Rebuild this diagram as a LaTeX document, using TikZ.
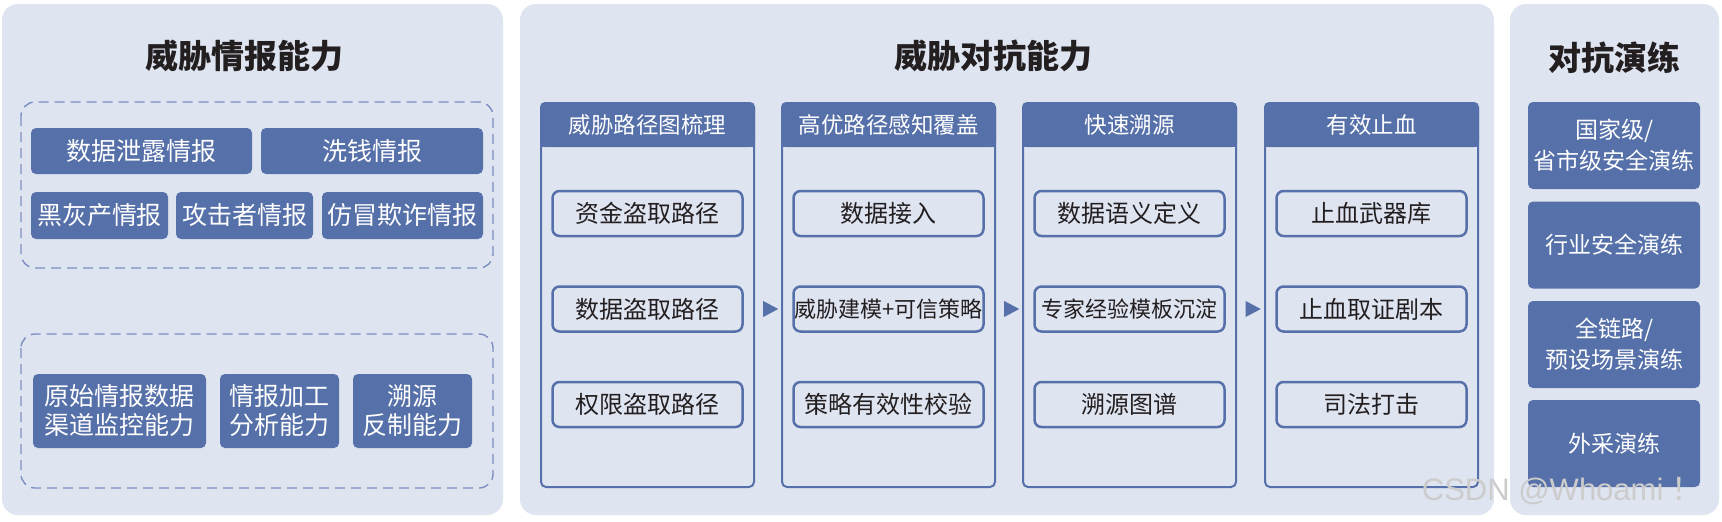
\documentclass[tikz,border=0pt]{standalone}
\usepackage{fontspec}
\setmainfont{Noto Sans CJK SC}
\newfontfamily\cjkfont{Noto Sans CJK SC}
\newfontfamily\wmfont{Liberation Sans}
\usetikzlibrary{calc}
\usetikzlibrary{shapes.geometric}
\definecolor{panelbg}{HTML}{DFE4F1}
\definecolor{hblue}{HTML}{5670A9}
\definecolor{dashblue}{HTML}{7D8FC2}
\definecolor{inkdark}{HTML}{231F20}

\begin{document}
\begin{tikzpicture}[x=1pt,y=-1pt,
                    panel/.style={fill=panelbg,rounded corners=16pt},
                    paneltitle/.style={text=inkdark,font=\fontsize{33}{36}\selectfont\bfseries},
                    dashframe/.style={draw=dashblue,line width=1.4pt,dash pattern=on 10pt off 6pt,rounded corners=14pt},
                    tagbox/.style={fill=hblue,rounded corners=5pt,text=white,inner sep=0pt,align=center,font=\fontsize{25}{29}\selectfont},
                    colbox/.style={draw=hblue,line width=2pt,rounded corners=5pt,minimum width=213pt,minimum height=384pt,inner sep=0pt},
                    headtext/.style={text=white,font=\fontsize{22.5}{26}\selectfont},
                    itembox/.style={draw=hblue,line width=2.5pt,rounded corners=7pt,fill=panelbg,minimum width=190pt,minimum height=45pt,inner sep=0pt,text=inkdark,font=\fontsize{24}{28}\selectfont},
                    flowtip/.style={isosceles triangle,isosceles triangle stretches,fill=hblue,inner sep=0pt,minimum width=16pt,minimum height=15pt},
                    drillbox/.style={tagbox,minimum width=172pt,minimum height=87pt,font=\fontsize{23}{31}\selectfont}]
                    \useasboundingbox (0,0) rectangle (1722,522);
                    \fill[white] (0,0) rectangle (1722,522);
                    \fill[panel] (2,4) rectangle (503,515);
                    \fill[panel] (520,4) rectangle (1494,515);
                    \fill[panel] (1510,4) rectangle (1719,515);

                    \node[paneltitle] (intel) at (244,56) {威胁情报能力};
                    \node[paneltitle] (counter) at (993,56) {威胁对抗能力};
                    \node[paneltitle] (drill) at (1614,58) {对抗演练};

                    \draw[dashframe] (21,102) rectangle (493,268);
                    \draw[dashframe] (21,334) rectangle (493,488);
                    \node[tagbox,minimum width=221pt,minimum height=46pt] (leak) at (141.5,151) {数据泄露情报};
                    \node[tagbox,minimum width=222pt,minimum height=46pt] (launder) at (372,151) {洗钱情报};
                    \node[tagbox,minimum width=137pt,minimum height=47pt] (gray) at (99.5,215.5) {黑灰产情报};
                    \node[tagbox,minimum width=137pt,minimum height=47pt] (attacker) at (244.5,215.5) {攻击者情报};
                    \node[tagbox,minimum width=161pt,minimum height=47pt] (fraud) at (402.5,215.5) {仿冒欺诈情报};
                    \node[tagbox,minimum width=173pt,minimum height=74pt] (monitor) at (119.5,411) {原始情报数据\\渠道监控能力};
                    \node[tagbox,minimum width=119pt,minimum height=74pt] (analyse) at (279.5,411) {情报加工\\分析能力};
                    \node[tagbox,minimum width=119pt,minimum height=74pt] (trace) at (412.5,411) {溯源\\反制能力};

                    \foreach \i/\x/\head in {1/647.5/威胁路径图梳理,2/888.5/高优路径感知覆盖,3/1129.5/快速溯源,4/1371.5/有效止血} {
                        \node[colbox] (col\i) at (\x,295) {};
                        \fill[hblue,rounded corners=5pt] (col\i.north west) rectangle ([yshift=-45pt]col\i.north east);
                        \fill[hblue] ([yshift=-20pt]col\i.north west) rectangle ([yshift=-45pt]col\i.north east);
                        \node[headtext] (head\i) at ($(col\i.north)+(0,22.5)$) {\head};
                    }
                    \foreach \c/\r/\txt in {1/1/资金盗取路径,1/2/数据盗取路径,1/3/权限盗取路径,
                                            2/1/数据接入,2/2/{\fontsize{22}{26}\selectfont 威胁建模+可信策略},2/3/策略有效性校验,
                                            3/1/数据语义定义,3/2/{\fontsize{22}{26}\selectfont 专家经验模板沉淀},3/3/溯源图谱,
                                            4/1/止血武器库,4/2/止血取证剧本,4/3/司法打击}
                        \node[itembox] (item\c\r) at ($(col\c.north)+(0,{111.5+95.5*(\r-1)})$) {\txt};
                    \foreach \i/\j in {1/2,2/3,3/4}
                        \node[flowtip] (tip\i) at ($(item\i2.east)!0.5!(item\j2.west)$) {};

                    \node[drillbox] (national) at (1614,145.5) {国家级/\\省市级安全演练};
                    \node[drillbox] (industry) at (1614,245) {行业安全演练};
                    \node[drillbox] (chain) at (1614,344.5) {全链路/\\预设场景演练};
                    \node[drillbox] (external) at (1614,443.5) {外采演练};

                    \node[anchor=east,text=gray!40,font=\wmfont\fontsize{31}{31}\selectfont] (mark) at (1706,491) {CSDN @Whoami\hspace{8pt}{\cjkfont ！}};
                \end{tikzpicture}
\end{document}
